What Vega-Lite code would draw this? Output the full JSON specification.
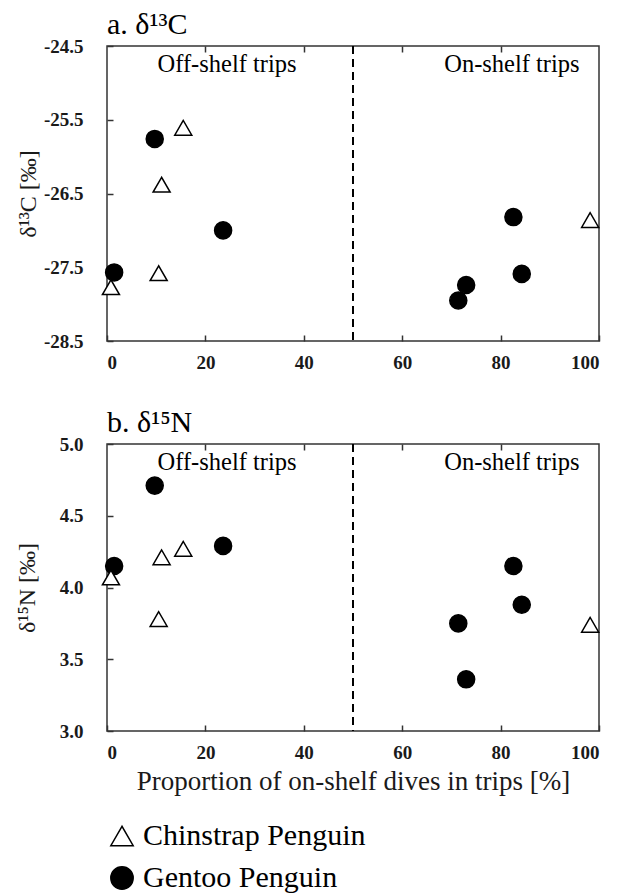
{
  "$schema": "https://vega.github.io/schema/vega-lite/v6.json",
  "background": "white",
  "padding": {"left": 14, "top": 9, "right": 12, "bottom": 0},
  "datasets": {
    "pts": [
      {"species": "Gentoo Penguin", "pct": 9.7, "d13C": -25.76, "d15N": 4.71},
      {"species": "Gentoo Penguin", "pct": 23.6, "d13C": -27.0, "d15N": 4.29},
      {"species": "Gentoo Penguin", "pct": 1.45, "d13C": -27.57, "d15N": 4.15},
      {"species": "Gentoo Penguin", "pct": 82.6, "d13C": -26.82, "d15N": 4.15},
      {"species": "Gentoo Penguin", "pct": 84.3, "d13C": -27.59, "d15N": 3.88},
      {"species": "Gentoo Penguin", "pct": 73.0, "d13C": -27.74, "d15N": 3.36},
      {"species": "Gentoo Penguin", "pct": 71.4, "d13C": -27.95, "d15N": 3.75},
      {"species": "Chinstrap Penguin", "pct": 15.5, "d13C": -25.61, "d15N": 4.27},
      {"species": "Chinstrap Penguin", "pct": 11.1, "d13C": -26.38, "d15N": 4.21},
      {"species": "Chinstrap Penguin", "pct": 10.5, "d13C": -27.58, "d15N": 3.78},
      {"species": "Chinstrap Penguin", "pct": 0.8, "d13C": -27.77, "d15N": 4.07},
      {"species": "Chinstrap Penguin", "pct": 98.2, "d13C": -26.86, "d15N": 3.74}
    ],
    "labels": [
      {"text": "Off-shelf trips", "pct": 24.4, "c": -24.76, "n": 4.87},
      {"text": "On-shelf trips", "pct": 82.3, "c": -24.76, "n": 4.87}
    ],
    "divider": [{"pct": 50}]
  },
  "vconcat": [
    {
      "width": 492,
      "height": 295,
      "title": {"text": "a. δ¹³C", "anchor": "start", "frame": "group", "fontSize": 30, "font": "Liberation Serif", "fontWeight": "normal", "offset": -3, "color": "black"},
      "resolve": {"axis": {"x": "independent"}},
      "layer": [
        {
          "data": {"name": "divider"},
          "mark": {"type": "rule", "strokeDash": [8, 5], "strokeWidth": 2, "color": "black"},
          "encoding": {"x": {"field": "pct", "type": "quantitative", "scale": {"domain": [0, 100], "nice": false}, "axis": null}}
        },
        {
          "data": {"name": "labels"},
          "mark": {"type": "text", "fontSize": 24.5, "font": "Liberation Serif", "color": "black"},
          "encoding": {
            "x": {"field": "pct", "type": "quantitative", "axis": {"orient": "top", "labels": false, "title": null, "values": [20, 40, 60, 80], "tickSize": -6}},
            "y": {"field": "c", "type": "quantitative"},
            "text": {"field": "text"}
          }
        },
        {
          "data": {"name": "pts"},
          "mark": {"type": "point", "filled": true, "strokeWidth": 1.5, "opacity": 1, "size": 290},
          "encoding": {
            "x": {"field": "pct", "type": "quantitative", "scale": {"domain": [0, 100], "nice": false},
                  "axis": {"orient": "bottom", "title": null, "values": [0, 20, 40, 60, 80, 100]}},
            "y": {"field": "d13C", "type": "quantitative", "scale": {"domain": [-28.5, -24.5], "nice": false, "zero": false},
                  "axis": {"title": "δ¹³C [‰]", "values": [-28.5, -27.5, -26.5, -25.5, -24.5], "format": ".1f", "labelExpr": "replace(datum.label, '−', '-')", "titlePadding": 3}},
            "shape": {"field": "species", "type": "nominal", "scale": {"domain": ["Chinstrap Penguin", "Gentoo Penguin"], "range": ["triangle-up", "circle"]}, "title": null},
            "fill": {"field": "species", "type": "nominal", "scale": {"domain": ["Chinstrap Penguin", "Gentoo Penguin"], "range": ["white", "black"]}, "title": null},
            "stroke": {"field": "species", "type": "nominal", "scale": {"domain": ["Chinstrap Penguin", "Gentoo Penguin"], "range": ["black", "black"]}, "title": null}
          }
        }
      ]
    },
    {
      "width": 492,
      "height": 287,
      "title": {"text": "b. δ¹⁵N", "anchor": "start", "frame": "group", "fontSize": 30, "font": "Liberation Serif", "fontWeight": "normal", "offset": -3, "color": "black"},
      "resolve": {"axis": {"x": "independent"}},
      "layer": [
        {
          "data": {"name": "divider"},
          "mark": {"type": "rule", "strokeDash": [8, 5], "strokeWidth": 2, "color": "black"},
          "encoding": {"x": {"field": "pct", "type": "quantitative", "scale": {"domain": [0, 100], "nice": false}, "axis": null}}
        },
        {
          "data": {"name": "labels"},
          "mark": {"type": "text", "fontSize": 24.5, "font": "Liberation Serif", "color": "black"},
          "encoding": {
            "x": {"field": "pct", "type": "quantitative", "axis": {"orient": "top", "labels": false, "title": null, "values": [20, 40, 60, 80], "tickSize": -6}},
            "y": {"field": "n", "type": "quantitative"},
            "text": {"field": "text"}
          }
        },
        {
          "data": {"name": "pts"},
          "mark": {"type": "point", "filled": true, "strokeWidth": 1.5, "opacity": 1, "size": 290},
          "encoding": {
            "x": {"field": "pct", "type": "quantitative", "scale": {"domain": [0, 100], "nice": false},
                  "axis": {"orient": "bottom", "title": "Proportion of on-shelf dives in trips [%]", "values": [0, 20, 40, 60, 80, 100]}},
            "y": {"field": "d15N", "type": "quantitative", "scale": {"domain": [3, 5], "nice": false, "zero": false},
                  "axis": {"title": "δ¹⁵N [‰]", "values": [3, 3.5, 4, 4.5, 5], "format": ".1f", "titlePadding": 20}},
            "shape": {"field": "species", "type": "nominal", "scale": {"domain": ["Chinstrap Penguin", "Gentoo Penguin"], "range": ["triangle-up", "circle"]}, "title": null},
            "fill": {"field": "species", "type": "nominal", "scale": {"domain": ["Chinstrap Penguin", "Gentoo Penguin"], "range": ["white", "black"]}, "title": null},
            "stroke": {"field": "species", "type": "nominal", "scale": {"domain": ["Chinstrap Penguin", "Gentoo Penguin"], "range": ["black", "black"]}, "title": null}
          }
        }
      ]
    }
  ],
  "spacing": 34,
  "resolve": {"scale": {"shape": "shared", "fill": "shared", "stroke": "shared"}},
  "config": {
    "font": "Liberation Serif",
    "view": {"stroke": "#333", "strokeWidth": 1.5},
    "axis": {
      "grid": false,
      "domain": false,
      "labelFont": "Liberation Serif",
      "labelFontSize": 19,
      "labelFontWeight": "bold",
      "labelColor": "#1a1a1a",
      "tickColor": "#333",
      "tickWidth": 1.5,
      "tickSize": -6,
      "titleFont": "Liberation Serif",
      "titleFontSize": 24,
      "titleFontWeight": "normal",
      "titleColor": "#1a1a1a"
    },
    "axisX": {"labelPadding": 18, "titleFontSize": 27, "titlePadding": 6},
    "axisY": {"labelPadding": 30},
    "legend": {
      "orient": "bottom",
      "direction": "vertical",
      "labelFont": "Liberation Serif",
      "labelFontSize": 30,
      "labelColor": "black",
      "labelLimit": 400,
      "symbolSize": 500,
      "symbolStrokeColor": "black",
      "symbolStrokeWidth": 1.5,
      "rowPadding": 12,
      "labelOffset": 6,
      "offset": 26
    }
  }
}
